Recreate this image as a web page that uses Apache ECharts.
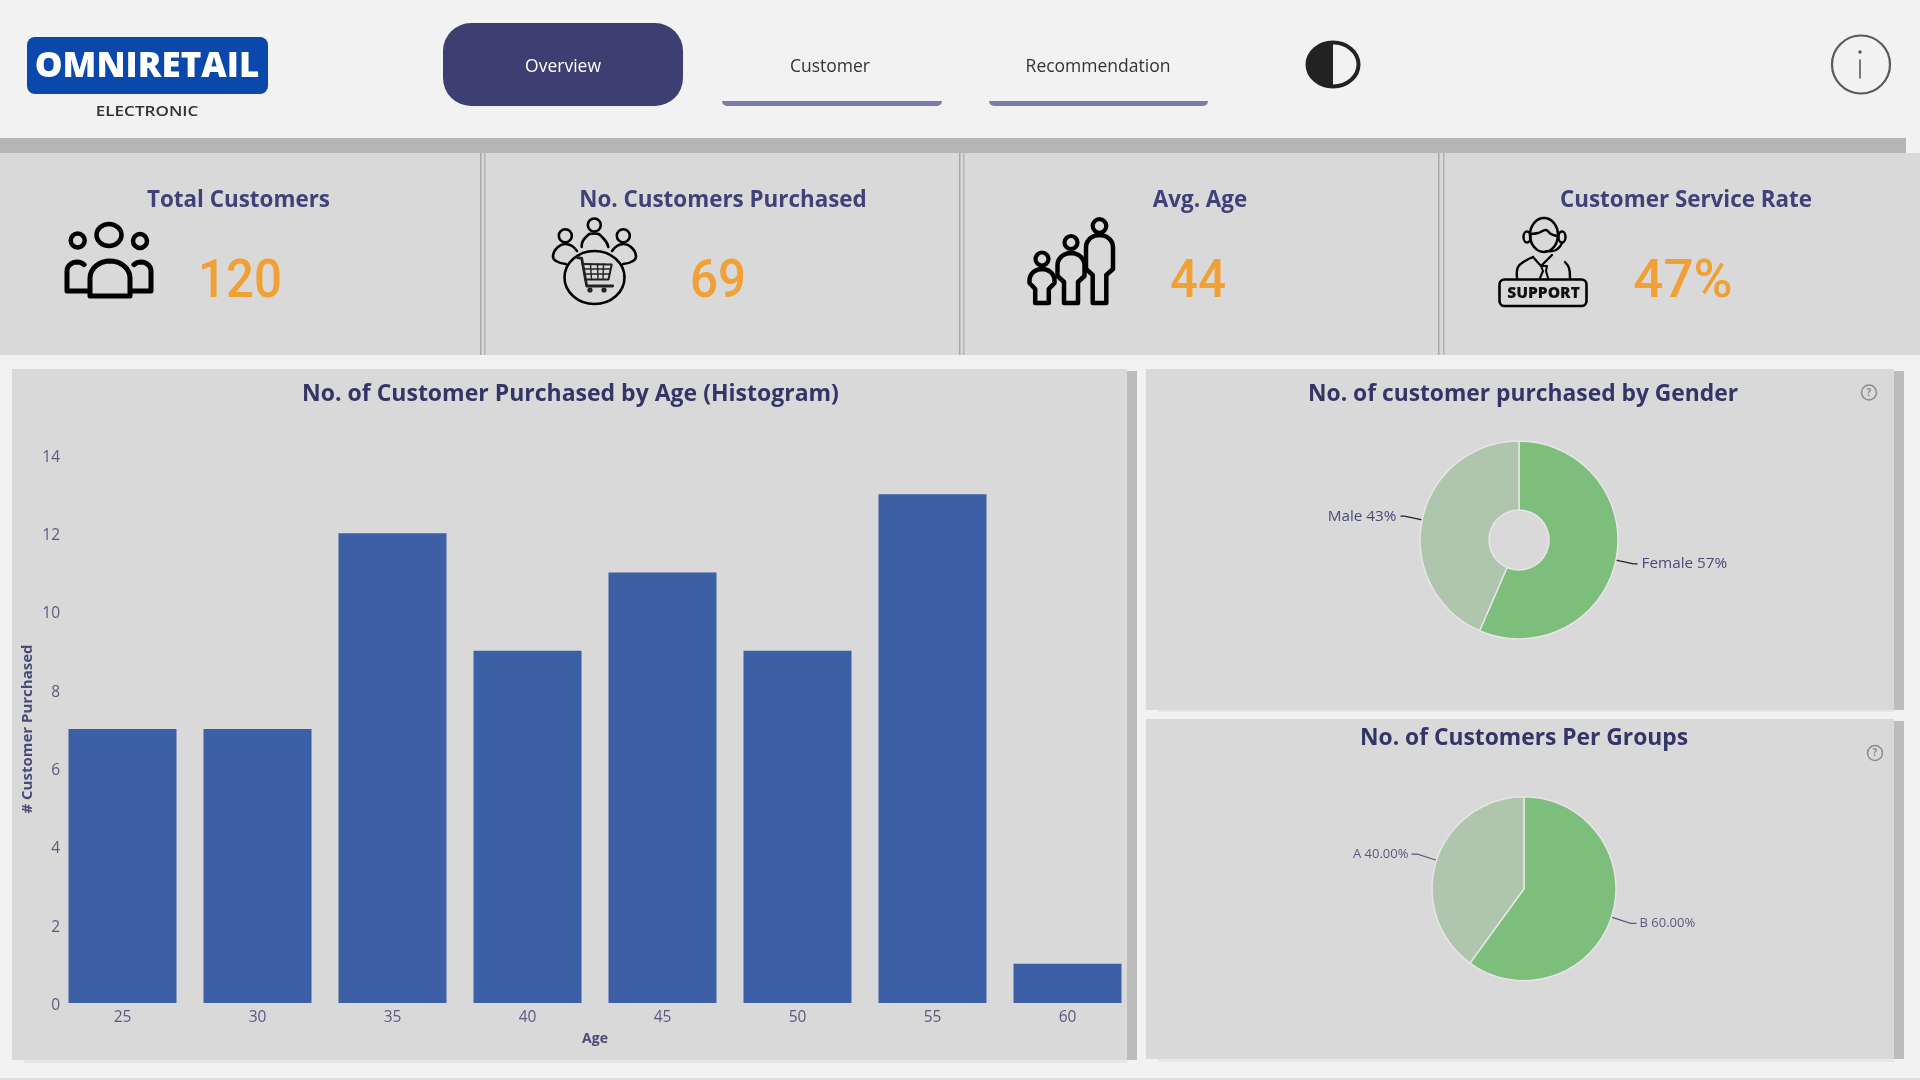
<!DOCTYPE html>
<html>
<head>
<meta charset="utf-8">
<title>Omniretail Overview</title>
<style>
	html, body { margin: 0; padding: 0; background: #f2f2f2; }
	#main { width: 1920px; height: 1080px; }
</style>
<script src="https://cdn.jsdelivr.net/npm/echarts@6/dist/echarts.min.js"></script>
</head>
<body>
<div id="main"></div>
<script>
var ages = ['25', '30', '35', '40', '45', '50', '55', '60'];
var purchased = [7, 7, 12, 9, 11, 9, 13, 1];
var genders = ['Female', 'Male'];
var genderCounts = [39, 30];
var groups = ['B', 'A'];
var groupCounts = [72, 48];
var kpiTitles = ['Total Customers', 'No. Customers Purchased', 'Avg. Age', 'Customer Service Rate'];
var kpiValues = ['120', '69', '44', '47%'];
var tabs = ['Overview', 'Customer', 'Recommendation'];

var NAVY = '#343566';
var BODY_FONT = '"Open Sans", sans-serif';
var myChart = echarts.init(document.getElementById('main'));

// helpers for the page furniture around the charts
function box(x, y, w, h, fill, r) {
	return { type: 'rect', shape: { x: x, y: y, width: w, height: h, r: r || 0 }, style: { fill: fill }, silent: true };
}
function label(x, y, text, font, fill, scaleX) {
	return {
		type: 'text', x: x, y: y, scaleX: scaleX || 1, silent: true,
		style: { text: text, font: font, fill: fill, align: 'center', verticalAlign: 'middle', textAlign: 'center', textVerticalAlign: 'middle' }
	};
}
function ring(cx, cy, rx, ry, w, color, fill) {
	return {
		type: 'ellipse', shape: { cx: cx, cy: cy, rx: rx, ry: ry }, silent: true,
		style: { stroke: color || '#000', lineWidth: w, fill: fill || 'none' }
	};
}
function stroke(points, w, color, smooth) {
	return {
		type: 'polyline', shape: { points: points, smooth: smooth || 0 }, silent: true,
		style: { stroke: color || '#000', lineWidth: w, fill: 'none', lineJoin: 'round', lineCap: 'round' }
	};
}
// semi ellipse from left to right, the top of a body or a shoulder
function arch(cx, rx, top, ry) {
	var pts = [];
	for (var i = 0; i <= 16; i++) {
		var a = Math.PI - Math.PI * i / 16;
		pts.push([cx + rx * Math.cos(a), top + ry - ry * Math.sin(a)]);
	}
	return pts;
}
function figure(cx, headY, headR, w, top, hip, leg, bottom) {
	var pts = [[cx - leg, bottom], [cx - leg, hip], [cx - w, hip - 6]].concat(arch(cx, w, top, w * 0.9));
	pts = pts.concat([[cx + w, hip - 6], [cx + leg, hip], [cx + leg, bottom], [cx - leg, bottom]]);
	return [ring(cx, headY, headR, headR, 4.2), stroke(pts, 4.5)];
}

var furniture = [
	// page bands
	box(0, 138, 1906, 15, '#b5b5b5'),
	box(0, 153, 1920, 202, '#d9d9d9'),
	box(480, 153, 1.5, 202, '#a8a8a8'), box(484, 153, 1.5, 202, '#b4b4b4'),
	box(959, 153, 1.5, 202, '#a8a8a8'), box(963, 153, 1.5, 202, '#b4b4b4'),
	box(1438, 153, 1.5, 202, '#a8a8a8'), box(1443, 153, 1.5, 202, '#b4b4b4'),
	box(0, 1078, 1920, 2, '#dddddd'),
	// cards
	box(24, 1060, 1103, 3, '#e6e6e6'), box(1158, 710, 736, 2, '#e6e6e6'), box(1158, 1059, 736, 3, '#e6e6e6'),
	box(12, 369, 1115, 691, '#d9d9d9'), box(1127, 371, 10, 689, '#bcbcbc'),
	box(1146, 369, 748, 341, '#d9d9d9'), box(1894, 371, 10, 339, '#bcbcbc'),
	box(1146, 719, 748, 340, '#d9d9d9'), box(1894, 721, 10, 338, '#bcbcbc'),
	// logo
	box(27, 37, 241, 57, '#0a49ab', 8),
	label(147, 67, 'OMNIRETAIL', '800 35px ' + BODY_FONT, '#ffffff'),
	label(147, 112, 'ELECTRONIC', '600 14px ' + BODY_FONT, '#333333', 1.22),
	// tabs
	box(443, 23, 240, 83, '#3d3f72', 28),
	box(722, 101, 220, 5, '#7c7da8', [0, 0, 9, 9]),
	box(989, 101, 219, 5, '#7c7da8', [0, 0, 9, 9]),
	label(563, 67, tabs[0], '17.5px ' + BODY_FONT, '#ffffff'),
	label(830, 67, tabs[1], '17.5px ' + BODY_FONT, '#333333'),
	label(1098, 67, tabs[2], '17.5px ' + BODY_FONT, '#333333'),
	// theme switch
	ring(1333, 64.5, 25.5, 22, 4, '#222222', '#f2f2f2'),
	// info button
	ring(1861, 64.5, 29, 29, 2.2, '#5a5a5a'),
	stroke([[1860, 60], [1860, 78]], 1.6, '#5a5a5a'),
	ring(1860, 52, 1, 1, 1.5, '#5a5a5a', '#5a5a5a'),
	// help marks on the pie cards
	ring(1869, 392.5, 7.5, 7.5, 1.5, '#8c8c8c'),
	label(1869, 393, '?', '700 10px ' + BODY_FONT, '#8c8c8c'),
	ring(1875, 753, 7.5, 7.5, 1.5, '#8c8c8c'),
	label(1875, 753.5, '?', '700 10px ' + BODY_FONT, '#8c8c8c')
];

// left half of the theme switch
var halfMoon = [];
for (var i = 0; i <= 24; i++) {
	var a = Math.PI / 2 + Math.PI * i / 24;
	halfMoon.push([1333 + 25.5 * Math.cos(a), 64.5 - 22 * Math.sin(a)]);
}
furniture.push({ type: 'polygon', shape: { points: halfMoon }, silent: true, style: { fill: '#222222' } });

// kpi titles and values
var kpiX = [238.5, 723, 1200, 1686];
var kpiValueX = [240, 718, 1198, 1683];
kpiTitles.forEach(function(t, i) {
	furniture.push(label(kpiX[i], 201, t, '700 22.4px ' + BODY_FONT, '#41417a'));
	furniture.push(label(kpiValueX[i], 284, kpiValues[i], '500 53px Roboto, sans-serif', '#f0a035', i == 3 ? 1 : 0.93));
});

// people icon
furniture.push(
	ring(109, 235, 12.5, 11, 4.5), ring(77.7, 240.5, 7, 7, 4.5), ring(140, 241, 7, 7, 4.5),
	stroke([[90, 296]].concat(arch(110, 20, 261, 17), [[130, 296], [90, 296]]), 5),
	stroke([[89, 291], [67, 291]].concat(arch(77, 10, 262, 9).slice(0, 13)), 5),
	stroke([[131, 291], [151, 291]].concat(arch(141, 10, 262, 9).reverse().slice(0, 13)), 5)
);
// shopping icon
furniture.push(
	ring(594.5, 277.5, 30, 26.5, 2.6),
	ring(594.3, 225, 6.5, 6.5, 2.6), ring(565.3, 235.7, 6.5, 6.5, 2.6), ring(623.3, 235.7, 6.5, 6.5, 2.6),
	stroke([[581.7, 247], [585, 238], [594.3, 233.5], [603, 238], [608.3, 247]], 2.6, '#000', 0.6),
	stroke([[577, 251], [572, 246], [565, 244], [558, 247], [553, 256], [556, 261], [566, 264]], 2.6, '#000', 0.5),
	stroke([[612, 251], [617, 246], [624, 244], [631, 247], [636, 256], [633, 261], [623, 264]], 2.6, '#000', 0.5),
	stroke([[577.3, 257.5], [581.7, 258.3], [586.7, 286], [612.7, 286]], 2.8, '#222222'),
	stroke([[582.5, 264], [611.7, 264.5], [608.5, 279.5], [585, 279.5]], 2, '#222222'),
	stroke([[590.5, 264], [591.5, 279.5]], 1.4, '#222222'), stroke([[597.5, 264], [598, 279.5]], 1.4, '#222222'), stroke([[603.5, 264], [603, 279.5]], 1.4, '#222222'),
	stroke([[583.5, 269], [610.5, 269]], 1.4, '#222222'), stroke([[584.5, 274], [609.5, 274]], 1.4, '#222222'),
	ring(590, 290, 1.8, 1.8, 1.6, '#222222', '#222222'), ring(604, 290, 1.8, 1.8, 1.6, '#222222', '#222222')
);
// family icon
furniture = furniture.concat(
	figure(1099.5, 226, 6.8, 13.5, 235, 275, 6.8, 303),
	figure(1071, 242.5, 6.5, 13.5, 253, 282, 7, 303),
	figure(1042, 259, 6.5, 12.5, 269, 289, 6.8, 303)
);
// support icon
furniture.push(
	ring(1544, 235, 14, 17, 2.6),
	stroke([[1531, 234], [1538, 233], [1546, 230], [1551, 234], [1557, 236]], 2.4, '#000', 0.4),
	ring(1527, 237, 3.5, 5.5, 2.4), ring(1562, 237, 3.5, 5.5, 2.4),
	stroke([[1562, 243], [1556, 250], [1546, 251]], 2.2, '#000', 0.5),
	stroke([[1517, 278], [1518, 267], [1525, 261], [1533, 257]], 2.4, '#000', 0.4),
	stroke([[1570, 278], [1569, 268], [1565, 262]], 2.4, '#000', 0.4),
	stroke([[1533, 257], [1541, 266], [1552, 255]], 2.2),
	stroke([[1541, 266], [1547, 266], [1546, 271], [1548, 278]], 2),
	stroke([[1541, 266], [1543, 271], [1540, 278]], 2),
	{ type: 'rect', silent: true, shape: { x: 1499.5, y: 279.5, width: 87, height: 26.5, r: 5 }, style: { fill: 'none', stroke: '#000', lineWidth: 2.6 } },
	label(1543.5, 293.5, 'SUPPORT', '800 15.6px ' + BODY_FONT, '#111111')
);

option = {
	backgroundColor: '#f2f2f2',
	animation: false,
	title: [{
		text: 'No. of Customer Purchased by Age (Histogram)',
		left: 570.5, top: 394.5, padding: 0, textAlign: 'center', textVerticalAlign: 'middle',
		textStyle: { fontFamily: BODY_FONT, fontSize: 23, fontWeight: 700, color: NAVY }
	}, {
		text: 'No. of customer purchased by Gender',
		left: 1523, top: 395, padding: 0, textAlign: 'center', textVerticalAlign: 'middle',
		textStyle: { fontFamily: BODY_FONT, fontSize: 22.8, fontWeight: 700, color: NAVY }
	}, {
		text: 'No. of Customers Per Groups',
		left: 1524, top: 738.5, padding: 0, textAlign: 'center', textVerticalAlign: 'middle',
		textStyle: { fontFamily: BODY_FONT, fontSize: 22.8, fontWeight: 700, color: NAVY }
	}],
	grid: { left: 55, top: 455, width: 1080, height: 548 },
	xAxis: {
		type: 'category',
		data: ages,
		name: 'Age',
		nameLocation: 'middle',
		nameGap: 29,
		nameMoveOverlap: false,
		nameTextStyle: { fontFamily: BODY_FONT, fontSize: 14, fontWeight: 700, color: '#4a4a78' },
		axisLine: { show: false },
		axisTick: { show: false },
		axisLabel: { margin: 7, fontFamily: BODY_FONT, fontSize: 15.5, color: '#5a5a80' }
	},
	yAxis: {
		type: 'value',
		min: 0,
		max: 14,
		interval: 2,
		name: '# Customer Purchased',
		nameLocation: 'middle',
		nameGap: 20,
		nameMoveOverlap: false,
		nameTextStyle: { fontFamily: BODY_FONT, fontSize: 15, fontWeight: 700, color: '#4a4a78' },
		axisLine: { show: false },
		axisTick: { show: false },
		splitLine: { show: false },
		// labels sit a little under their ticks, as in the source report
		axisLabel: { margin: -5, verticalAlign: 'top', lineHeight: 5, fontFamily: BODY_FONT, fontSize: 15.5, color: '#5a5a80' }
	},
	graphic: { elements: furniture },
	series: [{
		type: 'bar',
		data: purchased,
		barWidth: '80%',
		silent: true,
		itemStyle: { color: '#3c5fa5' }
	}, {
		type: 'pie',
		center: [1519, 540],
		radius: [30, 99],
		startAngle: 90,
		percentPrecision: 0,
		silent: true,
		data: genders.map(function(n, i) {
			return { name: n, value: genderCounts[i], itemStyle: { color: i == 0 ? '#7dbe7c' : '#afc5ad' } };
		}),
		itemStyle: { borderColor: '#e6e6e6', borderWidth: 1.5 },
		label: { formatter: '{b} {d}%', fontFamily: BODY_FONT, fontSize: 15.3, color: '#4a4a78', distanceToLabelLine: 4 },
		labelLine: { length: 18, length2: 4, lineStyle: { color: '#222222', width: 1.2 } }
	}, {
		type: 'pie',
		center: [1524, 888.7],
		radius: [0, 92],
		startAngle: 90,
		silent: true,
		data: groups.map(function(n, i) {
			return { name: n, value: groupCounts[i], itemStyle: { color: i == 0 ? '#7dbe7c' : '#afc5ad' } };
		}),
		itemStyle: { borderColor: '#e6e6e6', borderWidth: 1.5 },
		label: {
			formatter: function(p) { return p.name + ' ' + p.percent.toFixed(2) + '%'; },
			fontFamily: BODY_FONT, fontSize: 13, color: '#5a5a80', distanceToLabelLine: 3
		},
		labelLine: { length: 20, length2: 6, lineStyle: { color: '#5a5a80', width: 1.2 } }
	}]
};
myChart.setOption(option);
</script>
</body>
</html>
